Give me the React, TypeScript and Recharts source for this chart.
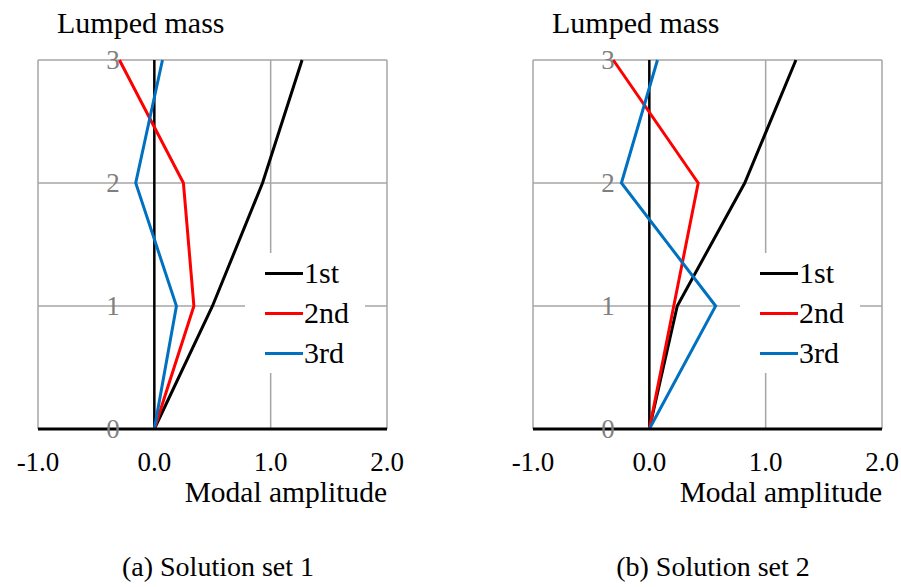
import React from 'react';
import { LineChart, Line, XAxis, YAxis, CartesianGrid, ReferenceLine, Legend } from 'recharts';

// lumped mass levels (vertical axis)
const levels = [0, 1, 2, 3];
const xTicks = [-1, 0, 1, 2];

// modal amplitudes, listed bottom (0) to top (3)
const set1First = [0, 0.5, 0.93, 1.27];
const set1Second = [0, 0.34, 0.25, -0.3];
const set1Third = [0, 0.19, -0.16, 0.07];

const set2First = [0, 0.24, 0.82, 1.26];
const set2Second = [0, 0.21, 0.42, -0.31];
const set2Third = [0, 0.57, -0.24, 0.07];

const modeNames = ['1st', '2nd', '3rd'];
const modeColors = ['#000000', '#ff0000', '#0070c0'];

const FONT = 'Times New Roman';

function buildRows(first: number[], second: number[], third: number[]) {
  return levels.map((level, i) => ({ level, first: first[i], second: second[i], third: third[i] }));
}

const XTick = (props: any) => {
  const { x, y, payload } = props;
  return (
    <text x={x} y={y + 42} textAnchor="middle" fontSize={27} fontFamily={FONT} style={{ fontFamily: FONT }} fill="#000">
      {Number(payload.value).toFixed(1)}
    </text>
  );
};

const YTick = (props: any) => {
  const { x, y, payload } = props;
  return (
    <text x={x + 75} y={y + 9} textAnchor="middle" fontSize={27} fontFamily={FONT} style={{ fontFamily: FONT }} fill="#7f7f7f">
      {payload.value}
    </text>
  );
};

const renderLegend = (props: any) => {
  const { payload } = props;
  return (
    <div style={{ background: '#fff', width: 120, height: 120 }}>
      {(payload || []).map((item: any) => (
        <div key={item.value} style={{ height: 40, display: 'flex', alignItems: 'center', paddingLeft: 20 }}>
          <span style={{ display: 'inline-block', width: 38, height: 3, background: item.color }} />
          <span style={{ fontFamily: FONT, fontSize: 30, lineHeight: '30px', color: '#000', marginLeft: 1 }}>{item.value}</span>
        </div>
      ))}
    </div>
  );
};

function ModePanel({ rows, left, caption }: { rows: any[]; left: number; caption: string }) {
  return (
    <div style={{ position: 'absolute', left, top: 0, width: 450, height: 587 }}>
      <div style={{ position: 'absolute', left: 57, top: 8, fontFamily: FONT, fontSize: 30, lineHeight: '30px', whiteSpace: 'nowrap' }}>
        Lumped mass
      </div>
      <LineChart
        width={450}
        height={500}
        data={rows}
        layout="vertical"
        margin={{ top: 60, right: 63, bottom: 31, left: 37 }}
      >
        <CartesianGrid stroke="#a6a6a6" strokeWidth={1.5} />
        <XAxis
          type="number"
          domain={[-1, 2]}
          ticks={xTicks}
          height={40}
          tickSize={0}
          tickMargin={0}
          tickLine={false}
          axisLine={{ stroke: '#000', strokeWidth: 3 }}
          tick={<XTick />}
        />
        <YAxis
          type="number"
          dataKey="level"
          domain={[0, 3]}
          ticks={levels}
          reversed
          width={1}
          tickSize={0}
          tickMargin={0}
          tickLine={false}
          axisLine={false}
          tick={<YTick />}
        />
        <ReferenceLine x={0} stroke="#000" strokeWidth={2.5} />
        <Line dataKey="first" name={modeNames[0]} stroke={modeColors[0]} strokeWidth={3} dot={false} isAnimationActive={false} />
        <Line dataKey="second" name={modeNames[1]} stroke={modeColors[1]} strokeWidth={3} dot={false} isAnimationActive={false} />
        <Line dataKey="third" name={modeNames[2]} stroke={modeColors[2]} strokeWidth={3} dot={false} isAnimationActive={false} />
        <Legend
          layout="vertical"
          align="center"
          verticalAlign="middle"
          content={renderLegend}
          wrapperStyle={{ left: 245, top: 253, width: 120, height: 120 }}
        />
      </LineChart>
      <div
        style={{ position: 'absolute', right: 63, top: 478, fontFamily: FONT, fontSize: 29.5, lineHeight: '29.5px', whiteSpace: 'nowrap' }}
      >
        Modal amplitude
      </div>
      <div
        style={{ position: 'absolute', left: 0, width: 436, textAlign: 'center', top: 553, fontFamily: FONT, fontSize: 28, lineHeight: '28px', whiteSpace: 'nowrap' }}
      >
        {caption}
      </div>
    </div>
  );
}

export default function App() {
  const rows1 = buildRows(set1First, set1Second, set1Third);
  const rows2 = buildRows(set2First, set2Second, set2Third);
  return (
    <div style={{ position: 'absolute', left: 0, top: 0, width: 901, height: 587, background: '#fff' }}>
      <ModePanel rows={rows1} left={0} caption="(a) Solution set 1" />
      <ModePanel rows={rows2} left={495} caption="(b) Solution set 2" />
    </div>
  );
}
